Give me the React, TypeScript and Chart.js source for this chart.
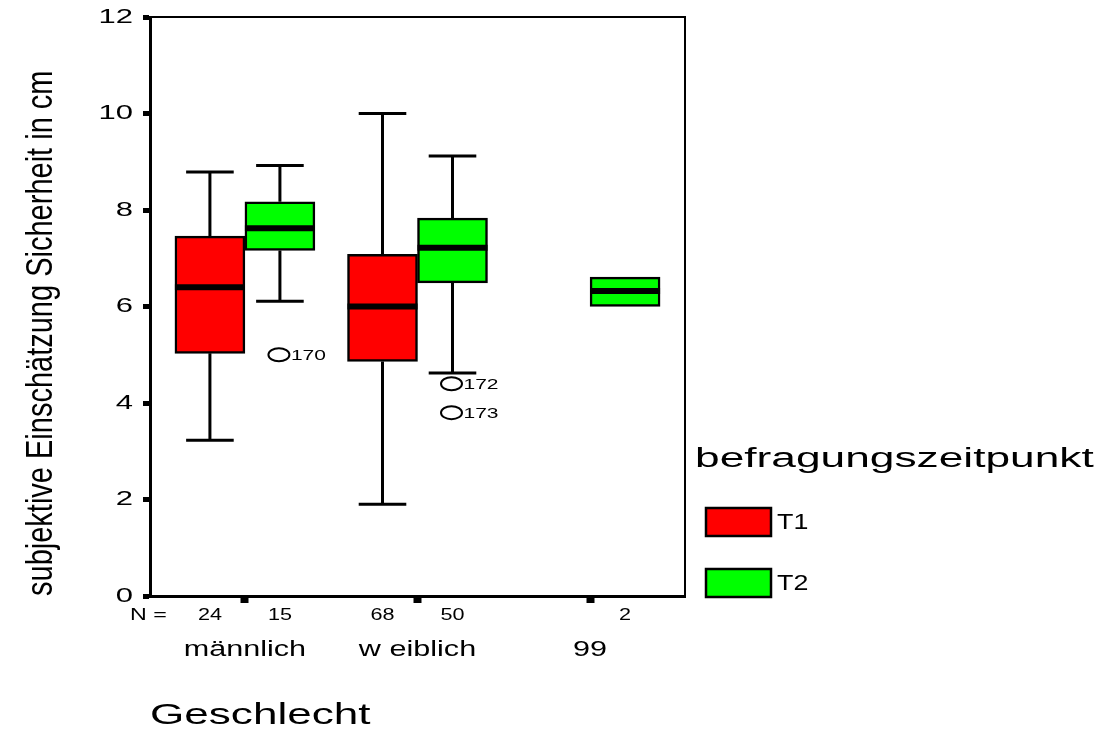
import React, { useEffect, useRef } from 'react';
import { Chart, registerables } from 'chart.js';

Chart.register(...registerables);

// ---------- data ----------
const categories = ['männlich', 'w eiblich', '99'];
const seriesLabels = ['T1', 'T2'];
const seriesColors = ['#ff0000', '#00ff00'];
const yTickValues = [0, 2, 4, 6, 8, 10, 12];

const t1Min = [3.23, 1.9, null];
const t1Q1 = [5.03, 4.86, null];
const t1Median = [6.4, 6.0, null];
const t1Q3 = [7.46, 7.08, null];
const t1Max = [8.79, 10.0, null];
const t1N = [24, 68, null];
const t1Outliers: { value: number; id: string }[][] = [[], [], []];

const t2Min = [6.11, 4.62, 6.0];
const t2Q1 = [7.16, 6.49, 6.0];
const t2Median = [7.62, 7.22, 6.32];
const t2Q3 = [8.17, 7.83, 6.61];
const t2Max = [8.92, 9.12, 6.61];
const t2N = [15, 50, 2];
const t2Outliers: { value: number; id: string }[][] = [
  [{ value: 5.0, id: '170' }],
  [
    { value: 4.4, id: '172' },
    { value: 3.8, id: '173' },
  ],
  [],
];

const yTitle = 'subjektive Einschätzung Sicherheit in cm';
const xTitle = 'Geschlecht';
const legendTitle = 'befragungszeitpunkt';
const nPrefix = 'N =';

// ---------- styling ----------
const FONT = '"Liberation Sans", Arial, Helvetica, sans-serif';
// horizontal (screen-space) stretch of the library-drawn texts, like the wide SPSS lettering
const TEXT_STRETCH: Record<string, number> = {
  [xTitle]: 1.52,
  [yTitle]: 1.25,
};
categories.forEach((c) => (TEXT_STRETCH[c] = 1.39));
yTickValues.forEach((v) => (TEXT_STRETCH[String(v)] = 1.55));

const stats = [
  { min: t1Min, q1: t1Q1, med: t1Median, q3: t1Q3, max: t1Max, n: t1N, out: t1Outliers },
  { min: t2Min, q1: t2Q1, med: t2Median, q3: t2Q3, max: t2Max, n: t2N, out: t2Outliers },
];

const boxData = (q1: (number | null)[], q3: (number | null)[]) =>
  categories
    .map((_, i) => (q1[i] == null ? null : { x: i + 1, y: [q1[i], q3[i]] }))
    .filter((d) => d !== null);

function drawStretched(c: any, text: string, x: number, y: number, sx: number, mw?: number) {
  const fill = c.__origFill || c.fillText;
  const m = c.getTransform();
  const p = m.transformPoint(new DOMPoint(x, y));
  const s = new DOMMatrix()
    .translateSelf(p.x, p.y)
    .scaleSelf(sx, 1)
    .translateSelf(-p.x, -p.y)
    .multiplySelf(m);
  c.setTransform(s);
  if (mw === undefined) fill.call(c, text, x, y);
  else fill.call(c, text, x, y, mw);
  c.setTransform(m);
}

const boxplotPlugin = {
  id: 'boxplotExtras',
  afterDatasetsDraw(chart: any) {
    const { ctx, chartArea } = chart;
    const y = chart.scales.y;
    ctx.save();
    // frame top / right
    ctx.strokeStyle = '#000';
    ctx.lineWidth = 2;
    ctx.beginPath();
    ctx.moveTo(chartArea.left, chartArea.top);
    ctx.lineTo(chartArea.right, chartArea.top);
    ctx.lineTo(chartArea.right, chartArea.bottom);
    ctx.stroke();

    stats.forEach((s, di) => {
      const meta = chart.getDatasetMeta(di);
      meta.data.forEach((el: any, j: number) => {
        const raw = chart.data.datasets[di].data[j];
        const i = raw.x - 1;
        const { x, width } = el.getProps(['x', 'width'], true);
        const half = width / 2;
        const cap = width * 0.34;
        const pq1 = y.getPixelForValue(s.q1[i]);
        const pq3 = y.getPixelForValue(s.q3[i]);
        const pmin = y.getPixelForValue(s.min[i]);
        const pmax = y.getPixelForValue(s.max[i]);
        const pmed = y.getPixelForValue(s.med[i]);
        ctx.strokeStyle = '#000';
        ctx.lineCap = 'butt';
        ctx.lineWidth = 3;
        if ((s.max[i] as number) > (s.q3[i] as number)) {
          ctx.beginPath();
          ctx.moveTo(x, pq3);
          ctx.lineTo(x, pmax);
          ctx.moveTo(x - cap, pmax);
          ctx.lineTo(x + cap, pmax);
          ctx.stroke();
        }
        if ((s.min[i] as number) < (s.q1[i] as number)) {
          ctx.beginPath();
          ctx.moveTo(x, pq1);
          ctx.lineTo(x, pmin);
          ctx.moveTo(x - cap, pmin);
          ctx.lineTo(x + cap, pmin);
          ctx.stroke();
        }
        ctx.lineWidth = 6;
        ctx.beginPath();
        ctx.moveTo(x - half, pmed);
        ctx.lineTo(x + half, pmed);
        ctx.stroke();

        // outliers
        s.out[i].forEach((o) => {
          const py = y.getPixelForValue(o.value);
          ctx.lineWidth = 2;
          ctx.beginPath();
          ctx.ellipse(x - 1, py, 10.5, 6.5, 0, 0, Math.PI * 2);
          ctx.stroke();
          ctx.fillStyle = '#000';
          ctx.font = `15px ${FONT}`;
          ctx.textAlign = 'left';
          ctx.textBaseline = 'middle';
          drawStretched(ctx, o.id, x + 11, py + 1, 1.4);
        });

        // N label
        if (s.n[i] != null) {
          ctx.fillStyle = '#000';
          ctx.font = `16px ${FONT}`;
          ctx.textAlign = 'center';
          ctx.textBaseline = 'middle';
          drawStretched(ctx, String(s.n[i]), x, chartArea.bottom + 19.5, 1.35);
        }
      });
    });

    ctx.fillStyle = '#000';
    ctx.font = `16px ${FONT}`;
    ctx.textAlign = 'left';
    ctx.textBaseline = 'middle';
    drawStretched(ctx, nPrefix, chartArea.left - 20, chartArea.bottom + 19.5, 1.45);
    ctx.restore();
  },
  afterDraw(chart: any) {
    const { ctx, chartArea } = chart;
    ctx.save();
    ctx.fillStyle = '#000';
    ctx.font = `27px ${FONT}`;
    ctx.textAlign = 'left';
    ctx.textBaseline = 'alphabetic';
    const lx = chartArea.right + 10;
    drawStretched(ctx, legendTitle, lx, 467, 1.64);
    chart.data.datasets.forEach((ds: any, k: number) => {
      const by = 508 + 61 * k;
      ctx.fillStyle = ds.backgroundColor;
      ctx.fillRect(lx + 11, by, 65, 28);
      ctx.strokeStyle = '#000';
      ctx.lineWidth = 2.5;
      ctx.strokeRect(lx + 11, by, 65, 28);
      ctx.fillStyle = '#000';
      ctx.font = `22px ${FONT}`;
      ctx.textBaseline = 'middle';
      drawStretched(ctx, ds.label, lx + 82, by + 15, 1.22);
    });
    ctx.restore();
  },
};

export default function App() {
  const ref = useRef<HTMLCanvasElement>(null);
  useEffect(() => {
    document.body.style.margin = '0';
    const canvas = ref.current as HTMLCanvasElement;
    const ctx = canvas.getContext('2d') as any;
    const origFill = ctx.fillText;
    ctx.__origFill = origFill;
    ctx.fillText = function (text: string, x: number, yy: number, mw?: number) {
      const sx = TEXT_STRETCH[text];
      if (sx === undefined) {
        if (mw === undefined) origFill.call(this, text, x, yy);
        else origFill.call(this, text, x, yy, mw);
        return;
      }
      drawStretched(this, text, x, yy, sx, mw);
    };

    const chart = new Chart(ctx, {
      type: 'bar',
      data: {
        datasets: [
          {
            label: seriesLabels[0],
            data: boxData(t1Q1, t1Q3) as any,
            backgroundColor: seriesColors[0],
            borderColor: '#000',
            borderWidth: 2.5,
            borderSkipped: false,
            barThickness: 70,
          },
          {
            label: seriesLabels[1],
            data: boxData(t2Q1, t2Q3) as any,
            backgroundColor: seriesColors[1],
            borderColor: '#000',
            borderWidth: 2.5,
            borderSkipped: false,
            barThickness: 70,
          },
        ],
      },
      options: {
        responsive: false,
        animation: false,
        layout: { padding: { left: 0, top: 17, right: 416, bottom: 0 } },
        plugins: {
          legend: { display: false },
          tooltip: { enabled: false },
        },
        scales: {
          x: {
            type: 'linear',
            min: 0.45,
            max: 3.55,
            offset: false,
            grid: {
              display: true,
              offset: false,
              drawOnChartArea: false,
              drawTicks: true,
              tickLength: 7,
              tickWidth: 8,
              tickColor: '#000',
            },
            border: { display: true, color: '#000', width: 3 },
            ticks: {
              color: '#000',
              font: { family: FONT, size: 22, lineHeight: 1 },
              padding: 35.5,
              maxRotation: 0,
              autoSkip: false,
              callback: (v: any) => categories[Math.round(Number(v)) - 1] ?? '',
            },
            afterBuildTicks: (s: any) => {
              s.ticks = categories.map((_, i) => ({ value: i + 1 }));
            },
            afterFit: (s: any) => {
              s.height = 133;
            },
            title: {
              display: true,
              text: xTitle,
              align: 'start',
              color: '#000',
              font: { family: FONT, size: 29, lineHeight: 0.9 },
              padding: { top: 0, bottom: 0 },
            },
          },
          y: {
            type: 'linear',
            min: 0,
            max: 12,
            grid: {
              display: true,
              drawOnChartArea: false,
              drawTicks: true,
              tickLength: 7,
              tickWidth: 5,
              tickColor: '#000',
            },
            border: { display: true, color: '#000', width: 3 },
            ticks: {
              color: '#000',
              font: { family: FONT, size: 20, lineHeight: 0.7 },
              padding: 10,
            },
            afterBuildTicks: (s: any) => {
              s.ticks = yTickValues.map((v) => ({ value: v }));
            },
            afterFit: (s: any) => {
              s.width = 150;
            },
            title: {
              display: true,
              text: yTitle,
              align: 'start',
              color: '#000',
              font: { family: FONT, size: 29, lineHeight: 1.2 },
              padding: { top: 25, bottom: 0 },
            },
          },
        },
      } as any,
      plugins: [boxplotPlugin],
    });
    return () => {
      chart.destroy();
    };
  }, []);

  return (
    <div style={{ width: 1101, height: 729 }}>
      <canvas ref={ref} width={1101} height={729} style={{ display: 'block' }} />
    </div>
  );
}
